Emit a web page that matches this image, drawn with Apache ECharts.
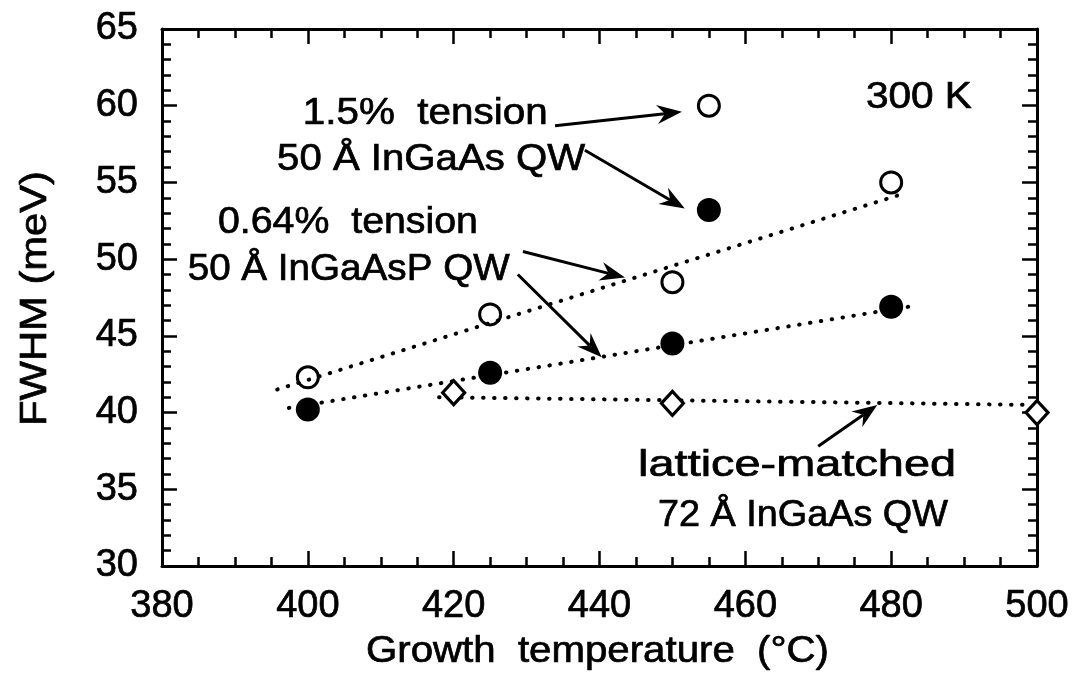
<!DOCTYPE html>
<html>
<head>
<meta charset="utf-8">
<script src="https://cdn.jsdelivr.net/npm/echarts@6/dist/echarts.min.js"></script>
<style>
  html, body { margin: 0; padding: 0; background: #fff; }
  #chart { width: 1075px; height: 673px; }
</style>
</head>
<body>
<div id="chart"></div>
<script>
// Growth temperature (°C) for the InGaAsP QW sample sets
const growthTemps = [400, 425, 450, 480];
// FWHM (meV), 0.64% tension 50 Å InGaAsP QW
const inGaAsPOpen = [42.3, 46.4, 48.5, 55.0];
const inGaAsPFilled = [40.2, 42.6, 44.5, 46.9];
// 1.5% tension 50 Å InGaAs QW
const inGaAsTemp = [455];
const inGaAsOpen = [60.0];
const inGaAsFilled = [53.2];
// lattice-matched 72 Å InGaAs QW
const latticeTemps = [420, 450, 500];
const latticeFWHM = [41.3, 40.6, 40.0];
// dotted trend lines (temperature, FWHM) end points
const openTrend = [[395.8, 41.5], [481.9, 54.3]];
const filledTrend = [[397.4, 40.3], [483.7, 47.0]];
const latticeTrend = [[418, 41.0], [499, 40.5]];

// axis ranges and ticks
const xMin = 380, xMax = 500, xStep = 20;
const yMin = 30, yMax = 65, yStep = 5;

// annotation texts
const noteTexts = ['1.5%  tension', '50 Å InGaAs QW', '0.64%  tension', '50 Å InGaAsP QW',
                   '300 K', 'lattice-matched', '72 Å InGaAs QW'];
// where each annotation sits (data units) and how wide it is set (px)
const noteAnchors = [[416.1, 59.5], [416.9, 56.45], [405.5, 52.4], [405.6, 49.3],
                     [483.8, 60.5], [467.1, 36.5], [467.9, 33.3]];
const noteWidths = [245, 308, 260, 322, 106, 318, 290];
// arrows: tail -> tip, data units
const arrows = [
  [[433.9, 58.7], [451.3, 59.6]],
  [[438.0, 57.1], [451.7, 53.3]],
  [[429.5, 50.5], [443.5, 48.8]],
  [[428.8, 49.0], [440.3, 43.6]],
  [[470.0, 37.8], [478.1, 40.5]]
];

const FONT = '"Liberation Sans", Arial, Helvetica, sans-serif';
const zip = (xs, ys) => xs.map((x, i) => [x, ys[i]]);

const measureCtx = document.createElement('canvas').getContext('2d');
const textWidth = (text, font) => { measureCtx.font = font; return measureCtx.measureText(text).width; };

const chart = echarts.init(document.getElementById('chart'), null, { renderer: 'canvas' });

const axisLine = { show: true, onZero: false, lineStyle: { color: '#000', width: 3 } };
const tick = { show: true, inside: true, length: 15, lineStyle: { color: '#000', width: 2.5 } };
const minor = (n) => ({ show: true, splitNumber: n, length: 9, lineStyle: { color: '#000', width: 2.5 } });
const labelStyle = { color: '#000', fontSize: 38, fontFamily: FONT, textBorderColor: '#000', textBorderWidth: 0.7 };

const dotted = { color: '#000', width: 4, type: [0.5, 10.5], cap: 'round', opacity: 1 };

chart.setOption({
  animation: false,
  backgroundColor: '#fff',
  grid: { left: 162, right: 38, top: 29, bottom: 107, containLabel: false },
  xAxis: [
    { type: 'value', min: xMin, max: xMax, interval: xStep, position: 'bottom',
      axisLine, axisTick: tick, minorTick: minor(4), splitLine: { show: false },
      axisLabel: Object.assign({ margin: 22 }, labelStyle) },
    { type: 'value', min: xMin, max: xMax, interval: xStep, position: 'top',
      axisLine, axisTick: tick, minorTick: minor(4), splitLine: { show: false },
      axisLabel: { show: false } }
  ],
  yAxis: [
    { type: 'value', min: yMin, max: yMax, interval: yStep, position: 'left',
      axisLine, axisTick: tick, minorTick: minor(5), splitLine: { show: false },
      axisLabel: Object.assign({ margin: 24 }, labelStyle) },
    { type: 'value', min: yMin, max: yMax, interval: yStep, position: 'right',
      axisLine, axisTick: tick, minorTick: minor(5), splitLine: { show: false },
      axisLabel: { show: false } }
  ],
  series: [
    { type: 'line', data: openTrend, symbol: 'none', lineStyle: dotted, silent: true, z: 1 },
    { type: 'line', data: filledTrend, symbol: 'none', lineStyle: dotted, silent: true, z: 1 },
    { type: 'line', data: latticeTrend, symbol: 'none', lineStyle: dotted, silent: true, z: 1 },
    { type: 'scatter', data: zip(growthTemps, inGaAsPOpen).concat(zip(inGaAsTemp, inGaAsOpen)),
      symbol: 'circle', symbolSize: 21, silent: true,
      itemStyle: { color: 'rgba(255,255,255,0)', borderColor: '#000', borderWidth: 3, opacity: 1 }, z: 3 },
    { type: 'scatter', data: zip(growthTemps, inGaAsPFilled).concat(zip(inGaAsTemp, inGaAsFilled)),
      symbol: 'circle', symbolSize: 24, silent: true,
      itemStyle: { color: '#000', opacity: 1 }, z: 3 },
    { type: 'scatter', data: zip(latticeTemps, latticeFWHM),
      symbol: 'diamond', symbolSize: [22, 24], silent: true,
      itemStyle: { color: '#fff', borderColor: '#000', borderWidth: 3.2, opacity: 1 }, z: 3 }
  ]
});

// annotations and axis titles drawn on top of the grid
const px = (p) => chart.convertToPixel({ gridIndex: 0 }, p);
const graphics = [];

const fitText = (text, font, width) => width / textWidth(text, font);
const ink = { fill: '#000', stroke: '#000', lineWidth: 0.7, align: 'center', verticalAlign: 'middle' };

noteTexts.forEach((text, i) => {
  const [x, y] = px(noteAnchors[i]);
  const font = '37px ' + FONT;
  graphics.push({
    type: 'text', x, y, scaleX: fitText(text, font, noteWidths[i]), silent: true,
    style: Object.assign({ text, font }, ink)
  });
});

arrows.forEach(([tail, tip]) => {
  const [x1, y1] = px(tail);
  const [x2, y2] = px(tip);
  const ang = Math.atan2(y2 - y1, x2 - x1);
  const len = 25, half = 9.5, notch = 8;
  const c = Math.cos(ang), s = Math.sin(ang);
  const back = [x2 - len * c, y2 - len * s];
  const p1 = [back[0] - half * s, back[1] + half * c];
  const p2 = [back[0] + half * s, back[1] - half * c];
  const pn = [x2 - (len - notch) * c, y2 - (len - notch) * s];
  graphics.push({
    type: 'line', silent: true,
    shape: { x1, y1, x2: pn[0], y2: pn[1] },
    style: { stroke: '#000', lineWidth: 3 }
  });
  graphics.push({
    type: 'polygon', silent: true,
    shape: { points: [[x2, y2], p1, pn, p2] },
    style: { fill: '#000' }
  });
});

// axis titles
const corner0 = px([xMin, yMin]);
const corner1 = px([xMax, yMax]);
const xTitle = 'Growth  temperature  (°C)';
const yTitle = 'FWHM (meV)';
const titleFont = '37px ' + FONT;
graphics.push({
  type: 'text', x: (corner0[0] + corner1[0]) / 2 - 2, y: 652, silent: true,
  scaleX: fitText(xTitle, titleFont, 463),
  style: Object.assign({ text: xTitle, font: titleFont }, ink)
});
graphics.push({
  type: 'text', x: 36, y: (corner0[1] + corner1[1]) / 2 + 1, rotation: Math.PI / 2, silent: true,
  scaleX: fitText(yTitle, titleFont, 255),
  style: Object.assign({ text: yTitle, font: titleFont }, ink)
});

chart.setOption({ graphic: graphics });
</script>
</body>
</html>
